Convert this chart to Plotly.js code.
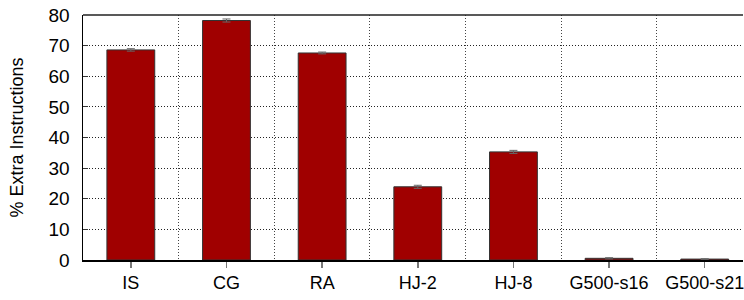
<!DOCTYPE html>
<html><head><meta charset="utf-8">
<script src="https://cdn.plot.ly/plotly-3.0.1.min.js"></script>
<style>html,body{margin:0;padding:0;background:#fff}#c{width:744px;height:300px}</style>
</head><body><div id="c"></div>
<script>
const categories = ["IS","CG","RA","HJ-2","HJ-8","G500-s16","G500-s21"];
const values = [68.6, 78.2, 67.6, 23.9, 35.3, 0.55, 0.3];
const errors = [0.4, 0.5, 0.3, 0.5, 0.5, 0.2, 0.1];
const yTicks = [0,10,20,30,40,50,60,70,80];

const idx = categories.map((_, i) => i);
const trace = {
  type: 'bar', x: idx, y: values, width: 0.5,
  marker: {color: '#a00000', line: {color: '#333333', width: 1}},
  error_y: {type: 'data', array: errors, visible: true, color: '#666666', thickness: 1, width: 4},
  hoverinfo: 'none'
};
const layout = {
  width: 744, height: 300,
  margin: {l: 83, r: 1, t: 15, b: 40},
  paper_bgcolor: '#fff', plot_bgcolor: '#fff',
  font: {family: 'Liberation Sans, Arial, sans-serif', size: 18, color: '#000'},
  showlegend: false,
  xaxis: {
    type: 'linear', range: [-0.5, 6.4],
    tickvals: idx, ticktext: categories,
    ticklabeloverflow: 'allow',
    showgrid: false, zeroline: false,
    showline: true, linecolor: '#000', linewidth: 1.5, mirror: false,
    ticks: 'outside', ticklen: 6, tickcolor: '#777', tickwidth: 1.5,
    minor: {tick0: 0.5, dtick: 1, showgrid: true, gridcolor: '#444', griddash: '1px,2px', gridwidth: 1, ticks: ''},
    tickfont: {size: 18}
  },
  yaxis: {
    range: [0, 80], tickvals: yTicks,
    showgrid: true, gridcolor: '#222', griddash: '1px,2px', gridwidth: 1,
    zeroline: false, showline: true, linecolor: '#000', linewidth: 1.5,
    ticks: 'inside', ticklen: 5, tickcolor: '#333',
    ticklabelstandoff: 8,
    tickfont: {size: 19},
    title: {text: '% Extra Instructions', font: {size: 18}, standoff: 20}
  },
  shapes: [{type: 'line', xref: 'paper', yref: 'paper', x0: 0, x1: 1, y0: 1, y1: 1, line: {color: '#222', width: 1.5}}]
};
Plotly.newPlot('c', [trace], layout, {staticPlot: true, displayModeBar: false});
</script></body></html>
